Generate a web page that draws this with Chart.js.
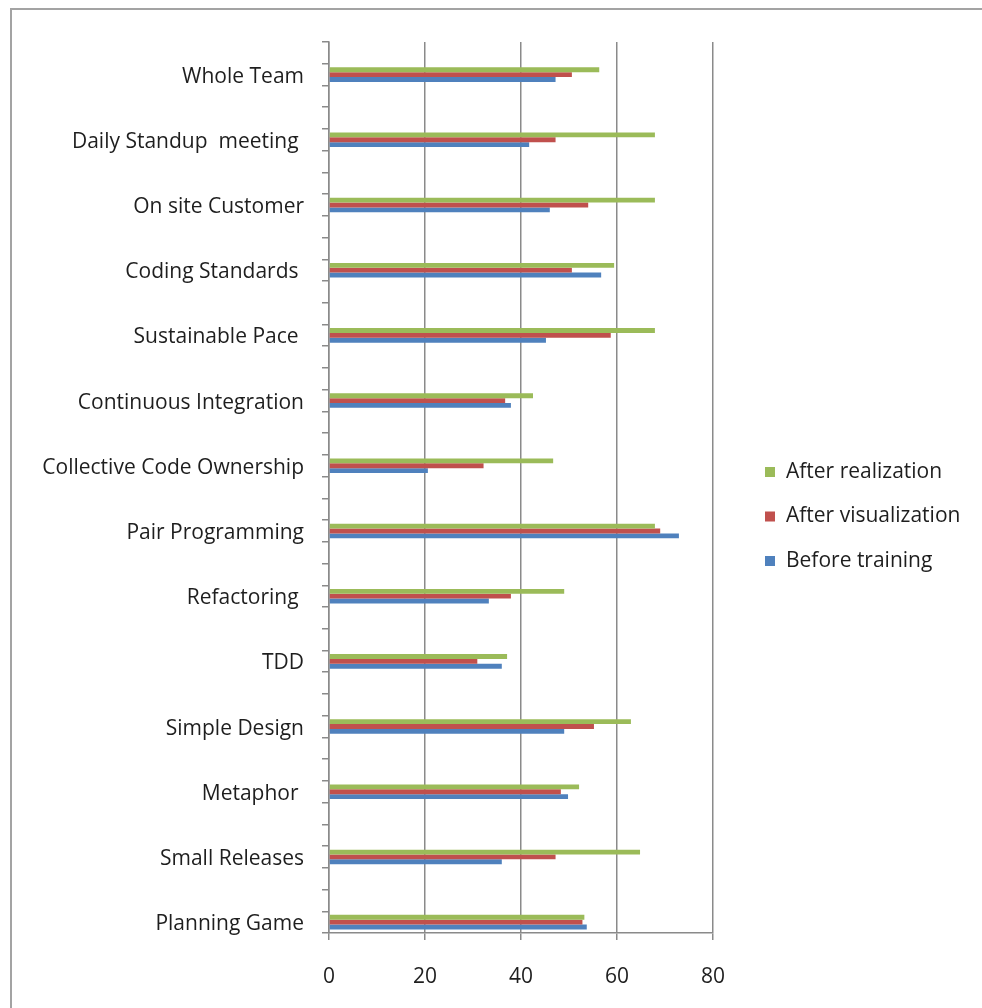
<!DOCTYPE html>
<html>
<head>
<meta charset="utf-8">
<style>
  html, body { margin: 0; padding: 0; background: #ffffff; }
  #wrap { width: 982px; height: 1008px; }
</style>
<script src="https://cdn.jsdelivr.net/npm/chart.js@4/dist/chart.umd.min.js"></script>
</head>
<body>
<div id="wrap"><canvas id="c" width="982" height="1008"></canvas></div>
<script>
// Practices, listed top to bottom as they appear on the axis
const categories = [
  'Whole Team',
  'Daily Standup  meeting ',
  'On site Customer',
  'Coding Standards ',
  'Sustainable Pace ',
  'Continuous Integration',
  'Collective Code Ownership',
  'Pair Programming',
  'Refactoring ',
  'TDD',
  'Simple Design',
  'Metaphor ',
  'Small Releases',
  'Planning Game'
];

const seriesNames = ['After realization', 'After visualization', 'Before training'];

const afterRealization   = [56.3, 67.9, 67.9, 59.4, 67.9, 42.5, 46.7, 67.9, 49.0, 37.1, 62.9, 52.1, 64.8, 53.2];
const afterVisualization = [50.6, 47.2, 54.0, 50.6, 58.7, 36.7, 32.2, 69.0, 37.9, 30.9, 55.2, 48.3, 47.2, 52.8];
const beforeTraining     = [47.2, 41.7, 46.0, 56.7, 45.2, 37.9, 20.6, 72.9, 33.3, 36.0, 49.0, 49.8, 36.0, 53.7];

const xTicks = [0, 20, 40, 60, 80];

const colors = ['#9BBB59', '#C0504D', '#4F81BD'];

// The sheet spaces each practice two empty rows apart, with one empty row on top.
const ROWS = 1 + categories.length * 3 - 2;
const rowOf = i => 1 + i * 3;

const rowLabels = Array(ROWS).fill('');
categories.forEach((c, i) => { rowLabels[rowOf(i)] = c; });

function spread(values) {
  const out = Array(ROWS).fill(null);
  values.forEach((v, i) => { out[rowOf(i)] = v; });
  return out;
}

const FONT = "'Open Sans', 'Liberation Sans', sans-serif";
const FSIZE = 21;
const TEXT = '#1e1e1e';
const GRID = '#8a8a8a';

// Frame around the chart and the legend on the right
const framePlugin = {
  id: 'frame',
  beforeDraw(chart) {
    const ctx = chart.ctx;
    ctx.save();
    ctx.fillStyle = '#ffffff';
    ctx.fillRect(0, 0, chart.width, chart.height);
    ctx.strokeStyle = '#a3a3a3';
    ctx.lineWidth = 2;
    ctx.strokeRect(11, 9, 1000, 1040);
    ctx.restore();
  },
  afterDraw(chart) {
    const ctx = chart.ctx;
    const area = chart.chartArea;
    ctx.save();
    ctx.font = FSIZE + 'px ' + FONT;
    ctx.textBaseline = 'middle';
    ctx.textAlign = 'left';
    const x0 = area.right + 52;
    const yMid = (area.top + area.bottom) / 2 + 29;
    const step = 44.5;
    chart.data.datasets.forEach((ds, i) => {
      const y = yMid + (i - 1) * step;
      ctx.fillStyle = ds.backgroundColor;
      ctx.fillRect(x0, y - 5, 10, 10);
      ctx.fillStyle = TEXT;
      ctx.fillText(ds.label, x0 + 21, y);
    });
    ctx.restore();
  }
};

const ctx = document.getElementById('c').getContext('2d');
new Chart(ctx, {
  type: 'bar',
  data: {
    labels: rowLabels,
    datasets: [
      { label: seriesNames[0], data: spread(afterRealization),   backgroundColor: colors[0] },
      { label: seriesNames[1], data: spread(afterVisualization), backgroundColor: colors[1] },
      { label: seriesNames[2], data: spread(beforeTraining),     backgroundColor: colors[2] }
    ]
  },
  options: {
    indexAxis: 'y',
    responsive: false,
    animation: false,
    devicePixelRatio: 1,
    categoryPercentage: 0.67,
    barPercentage: 1.0,
    layout: { padding: { top: 42, right: 269, left: 0, bottom: 0 } },
    plugins: {
      legend: { display: false },
      tooltip: { enabled: false }
    },
    scales: {
      x: {
        type: 'linear',
        min: xTicks[0],
        max: xTicks[xTicks.length - 1],
        afterBuildTicks(scale) { scale.ticks = xTicks.map(v => ({ value: v })); },
        afterFit(scale) { scale.height = 75; },
        grid: { color: GRID, lineWidth: 1.5, tickLength: 7, drawTicks: true },
        border: { color: GRID, width: 1.5 },
        ticks: { color: TEXT, font: { family: FONT, size: FSIZE }, padding: 24, maxRotation: 0 }
      },
      y: {
        type: 'category',
        afterFit(scale) { scale.width = 329; },
        grid: { drawOnChartArea: false, color: GRID, lineWidth: 1.5, tickLength: 7, offset: true },
        border: { color: GRID, width: 1.5 },
        ticks: {
          autoSkip: false,
          color: TEXT,
          font: { family: FONT, size: FSIZE },
          padding: 18,
          labelOffset: 2,
          callback: (v, i) => rowLabels[i]
        }
      }
    }
  },
  plugins: [framePlugin]
});
</script>
</body>
</html>
